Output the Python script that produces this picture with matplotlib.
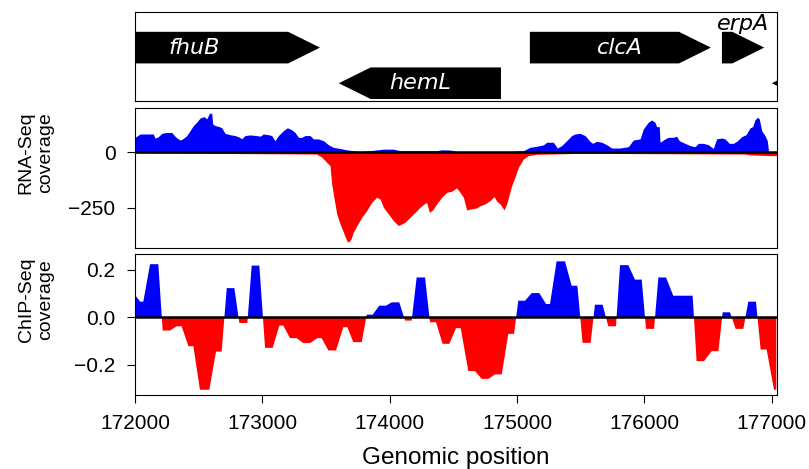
import matplotlib

matplotlib.use("Agg")

import matplotlib.pyplot as plt  # noqa: E402
import numpy as np  # noqa: E402
from matplotlib.patches import Polygon  # noqa: E402

plt.rcParams["font.family"] = ["Liberation Sans", "DejaVu Sans"]

# Genes in the displayed region (strand 1 = forward, -1 = reverse)
gene_names = ["fhuB", "hemL", "clcA", "erpA", "yadS"]
gene_starts = [171469, 173600, 175100, 176608, 177000]
gene_ends = [173452, 174873, 176521, 176940, 177650]
gene_strands = [1, -1, 1, 1, -1]

# RNA-Seq coverage, plus strand
rna_plus_pos = [
    172000, 172040, 172079, 172105, 172144, 172157, 172183, 172210, 172249,
    172288, 172309, 172327, 172354, 172374, 172406, 172432, 172458, 172484,
    172511, 172542, 172563, 172584, 172602, 172610, 172628, 172662, 172681,
    172707, 172746, 172785, 172812, 172838, 172864, 172903, 172955, 172982,
    173008, 173047, 173073, 173099, 173126, 173165, 173196, 173230, 173256,
    173283, 173309, 173335, 173374, 173400, 173440, 173479, 173518, 173557,
    173610, 173662, 173714, 173767, 173845, 173950, 174028, 174081, 174368,
    174408, 174473, 174525, 174944, 175049, 175101, 175154, 175206, 175232,
    175284, 175316, 175350, 175389, 175428, 175454, 175494, 175533, 175572,
    175593, 175624, 175664, 175703, 175742, 175808, 175873, 175912, 175965,
    175991, 176030, 176056, 176082, 176095, 176116, 176122, 176161, 176187,
    176226, 176252, 176273, 176318, 176357, 176396, 176423, 176462, 176501,
    176540, 176566, 176606, 176632, 176666, 176697, 176724, 176763, 176797,
    176828, 176849, 176867, 176886, 176901, 176920, 176946, 176964, 176975,
    177040,
]
rna_plus_cov = [
    67, 82, 82, 82, 82, 63, 70, 85, 89,
    89, 75, 65, 55, 60, 75, 97, 120, 135,
    154, 160, 150, 175, 175, 127, 120, 115, 110,
    85, 79, 75, 70, 61, 75, 78, 75, 72,
    82, 79, 75, 52, 75, 97, 110, 101, 89,
    67, 67, 75, 75, 60, 60, 52, 34, 22,
    17, 11, 7, 4, 7, 14, 14, 7, 7,
    11, 10, 4, 4, 7, 22, 27, 33, 45,
    45, 19, 30, 52, 75, 82, 85, 75, 49,
    40, 49, 45, 34, 19, 19, 25, 55, 60,
    105, 135, 145, 135, 115, 115, 45, 60, 67,
    67, 72, 52, 40, 30, 25, 40, 40, 34,
    17, 60, 64, 60, 40, 40, 49, 70, 79,
    109, 115, 145, 157, 150, 97, 75, 52, 0,
    0,
]

# RNA-Seq coverage, minus strand (drawn below zero)
rna_minus_pos = [
    172000, 173425, 173466, 173505, 173531, 173544, 173570, 173584, 173610,
    173636, 173662, 173675, 173696, 173714, 173741, 173767, 173780, 173819,
    173858, 173897, 173924, 173950, 173989, 174028, 174067, 174094, 174120,
    174159, 174198, 174238, 174269, 174290, 174311, 174337, 174368, 174408,
    174447, 174486, 174525, 174552, 174578, 174604, 174643, 174682, 174709,
    174748, 174787, 174819, 174840, 174866, 174897, 174918, 174939, 174957,
    174983, 175010, 175049, 175088, 175154, 175258, 175494, 176789, 176828,
    176985, 177040,
]
rna_minus_cov = [
    3, 8, 22, 45, 60, 142, 232, 277, 322,
    359, 397, 404, 389, 359, 330, 305, 292, 262,
    225, 202, 210, 247, 277, 307, 329, 322, 314,
    292, 270, 247, 232, 225, 270, 259, 232, 202,
    180, 175, 160, 180, 202, 259, 254, 250, 240,
    232, 217, 199, 220, 232, 259, 232, 187, 150,
    112, 67, 30, 15, 9, 8, 5, 8, 12,
    15, 15,
]

# ChIP-Seq coverage
chip_pos = [
    172000, 172040, 172065, 172118, 172183, 172217, 172275, 172327, 172366,
    172419, 172458, 172510, 172583, 172636, 172680, 172720, 172780, 172819,
    172882, 172916, 172976, 173021, 173081, 173133, 173164, 173217, 173269,
    173321, 173374, 173431, 173465, 173518, 173578, 173635, 173667, 173714,
    173780, 173819, 173866, 173918, 173971, 174015, 174075, 174120, 174172,
    174211, 174277, 174316, 174363, 174415, 174468, 174520, 174557, 174617,
    174669, 174722, 174774, 174826, 174879, 174931, 174976, 175009, 175062,
    175114, 175174, 175227, 175258, 175310, 175376, 175428, 175473, 175514,
    175577, 175611, 175671, 175716, 175776, 175808, 175873, 175925, 175978,
    176012, 176075, 176109, 176169, 176226, 176378, 176409, 176467, 176527,
    176580, 176614, 176671, 176716, 176776, 176815, 176875, 176912, 176959,
    177017, 177035,
]
chip_cov = [
    0.094, 0.066, 0.066, 0.224, 0.224, -0.056, -0.056, -0.038, -0.038,
    -0.122, -0.122, -0.306, -0.306, -0.145, -0.145, 0.123, 0.123, -0.024,
    -0.024, 0.218, 0.218, -0.129, -0.129, -0.035, -0.035, -0.088, -0.088,
    -0.109, -0.109, -0.088, -0.088, -0.140, -0.140, -0.042, -0.042, -0.105,
    -0.105, 0.011, 0.011, 0.049, 0.049, 0.063, 0.063, -0.014, -0.014,
    0.168, 0.168, -0.021, -0.021, -0.112, -0.112, -0.046, -0.046, -0.227,
    -0.227, -0.260, -0.260, -0.241, -0.241, -0.070, -0.070, 0.070, 0.070,
    0.102, 0.102, 0.056, 0.056, 0.236, 0.236, 0.133, 0.133, -0.108,
    -0.108, 0.053, 0.053, -0.038, -0.038, 0.220, 0.220, 0.159, 0.159,
    -0.049, -0.049, 0.168, 0.168, 0.091, 0.091, -0.185, -0.185, -0.143,
    -0.143, 0.021, 0.021, -0.049, -0.049, 0.066, 0.066, -0.136, -0.136,
    -0.306, -0.306,
]

REGION = (172000, 177040)
HEAD_LEN = 250
ROW_Y = {1: 0.60, -1: 0.20}
ROW_H = 0.355


def gene_polygon(start, end, strand, y):
    """Arrow-shaped outline of a gene, pointing in its reading direction."""
    head = min(HEAD_LEN, end - start)
    lo, hi = y - ROW_H / 2, y + ROW_H / 2
    if strand == 1:
        return [(start, lo), (end - head, lo), (end, y), (end - head, hi), (start, hi)]
    return [(end, lo), (start + head, lo), (start, y), (start + head, hi), (end, hi)]


fig = plt.figure(figsize=(8.09, 4.69), dpi=100)
left, width = 0.1669, 0.7935
ax_gene = fig.add_axes([left, 0.7846, width, 0.1898])
ax_rna = fig.add_axes([left, 0.4712, width, 0.2991])
ax_chip = fig.add_axes([left, 0.1578, width, 0.2996])

# Gene track
for name, start, end, strand in zip(gene_names, gene_starts, gene_ends, gene_strands):
    y = ROW_Y[strand]
    ax_gene.add_patch(Polygon(gene_polygon(start, end, strand, y), closed=True,
                              facecolor="black", edgecolor="none"))
    center = (start + end) / 2
    if not REGION[0] <= center <= REGION[1]:
        continue  # label would sit outside the shown region
    if end - start > 600:
        ax_gene.text(center, y, name, color="white", ha="center", va="center",
                     fontsize=16, style="italic", family="DejaVu Sans")
    else:
        ax_gene.text(center, 0.865, name, color="black", ha="center", va="center",
                     fontsize=16, style="italic", family="DejaVu Sans")
ax_gene.set_xlim(*REGION)
ax_gene.set_ylim(0, 1)
ax_gene.set_xticks([])
ax_gene.set_yticks([])

# RNA-Seq coverage
ax_rna.fill_between(rna_plus_pos, 0, rna_plus_cov, color="blue", linewidth=0)
ax_rna.fill_between(rna_minus_pos, 0, -np.array(rna_minus_cov), color="red", linewidth=0)
ax_rna.axhline(0, color="black", linewidth=1.8)
ax_rna.set_xlim(*REGION)
ax_rna.set_ylim(-430, 200)
ax_rna.set_yticks([-250, 0])
ax_rna.set_xticks([])
ax_rna.set_ylabel("RNA-Seq\ncoverage", fontsize=14)

# ChIP-Seq coverage
chip = np.array(chip_cov)
ax_chip.fill_between(chip_pos, 0, chip, where=chip >= 0, interpolate=True,
                     color="blue", linewidth=0)
ax_chip.fill_between(chip_pos, 0, chip, where=chip <= 0, interpolate=True,
                     color="red", linewidth=0)
ax_chip.axhline(0, color="black", linewidth=1.8)
ax_chip.set_xlim(*REGION)
ax_chip.set_ylim(-0.328, 0.265)
ax_chip.set_yticks([-0.2, 0.0, 0.2])
ax_chip.set_xticks([172000, 173000, 174000, 175000, 176000, 177000])
ax_chip.set_ylabel("ChIP-Seq\ncoverage", fontsize=14)
ax_chip.set_xlabel("Genomic position", fontsize=17.5, labelpad=10)

for ax in (ax_rna, ax_chip):
    ax.tick_params(labelsize=15, length=6, pad=8)
    # the labels sit a little above the panel centre in the original
    ax.yaxis.set_label_coords(-0.126, 0.68)

fig.savefig("out.png", dpi=100)
